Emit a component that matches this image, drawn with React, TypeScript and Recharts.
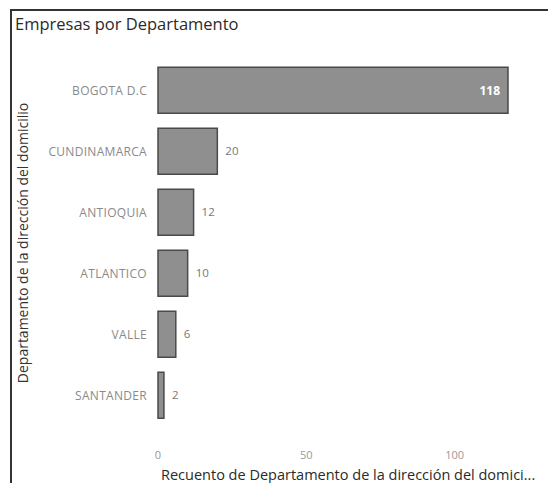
import React from "react";
import { BarChart, Bar, XAxis, YAxis, LabelList, Label } from "recharts";

const departamentos = ["BOGOTA D.C", "CUNDINAMARCA", "ANTIOQUIA", "ATLANTICO", "VALLE", "SANTANDER"];
const recuento = [118, 20, 12, 10, 6, 2];
const xTicks = [0, 50, 100];

const data = departamentos.map((name, i) => ({ name, count: recuento[i] }));

const FONT = "'Open Sans', 'DejaVu Sans', sans-serif";

const renderValue = (props: any) => {
  const { x, y, width, height, value } = props;
  const cy = y + height / 2;
  if (width > 60) {
    return (
      <text x={x + width - 8} y={cy} dy="0.35em" textAnchor="end" fill="#fff" fontSize={12} fontWeight="bold" fontFamily={FONT}>
        {value}
      </text>
    );
  }
  return (
    <text x={x + width + 8} y={cy} dy="0.35em" textAnchor="start" fill="#777" fontSize={11.5} fontFamily={FONT}>
      {value}
    </text>
  );
};

const renderYTitle = (props: any) => {
  const { viewBox } = props;
  const cx = 23;
  const cy = viewBox.y + viewBox.height / 2;
  return (
    <text x={cx} y={cy} transform={`rotate(-90, ${cx}, ${cy})`} textAnchor="middle" dy="0.35em" fill="#333" fontSize={14} fontFamily={FONT}>
      Departamento de la dirección del domicilio
    </text>
  );
};

const App: React.FC = () => {
  return (
    <div style={{ position: "absolute", left: 0, top: 0, width: 548, height: 483, background: "#fff", overflow: "hidden" }}>
      <div style={{ position: "absolute", left: 10, top: 9, width: 538, height: 2, background: "#333" }} />
      <div style={{ position: "absolute", left: 10, top: 9, width: 2, height: 474, background: "#333" }} />
      <div
        style={{
          position: "absolute",
          left: 15,
          top: 12,
          fontFamily: FONT,
          fontSize: 16.5,
          color: "#2a2a2a",
          whiteSpace: "nowrap",
        }}
      >
        Empresas por Departamento
      </div>
      <BarChart
        width={548}
        height={483}
        data={data}
        layout="vertical"
        margin={{ top: 60, right: 40, bottom: 0, left: 0 }}
        barCategoryGap="12%"
        style={{ position: "absolute", left: 0, top: 0 }}
      >
        <XAxis
          type="number"
          domain={[0, 118]}
          ticks={xTicks}
          height={57}
          axisLine={false}
          tickLine={false}
          tickMargin={19}
          tick={{ fill: "#999", fontSize: 11, fontFamily: FONT }}
        >
          <Label
            value="Recuento de Departamento de la dirección del domici..."
            position="insideBottomLeft"
            offset={3}
            fill="#2a2a2a"
            fontSize={14.5}
            fontFamily={FONT}
          />
        </XAxis>
        <YAxis
          type="category"
          dataKey="name"
          width={158}
          axisLine={false}
          tickLine={false}
          tickMargin={5}
          tick={{ fill: "#8a8a8a", fontSize: 12, letterSpacing: 0.3, fontFamily: FONT }}
        >
          <Label content={renderYTitle} />
        </YAxis>
        <Bar dataKey="count" fill="#8f8f8f" stroke="#4a4a4a" strokeWidth={1.5} isAnimationActive={false}>
          <LabelList dataKey="count" content={renderValue} />
        </Bar>
      </BarChart>
    </div>
  );
};

export default App;
